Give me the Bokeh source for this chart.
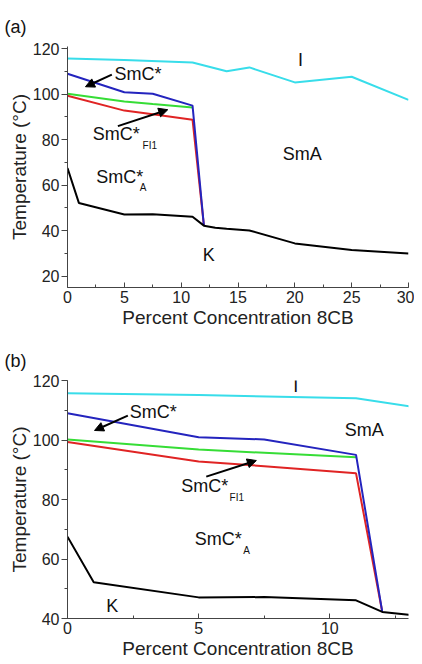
from bokeh.plotting import figure
from bokeh.layouts import column
from bokeh.models import Label, Arrow, NormalHead, SingleIntervalTicker, Range1d
from bokeh.embed import file_html
from bokeh.resources import INLINE

# ---- data (percent 8CB vs transition temperature, deg C) ----
conc_I = [0, 5, 11, 14, 16, 20, 25, 30]
temp_I = [115.7, 115.1, 114.0, 110.1, 111.8, 105.2, 107.7, 97.5]

conc_smc = [0, 5, 7.5, 11, 12]
temp_smc = [109.0, 100.9, 100.2, 95.0, 42.2]

conc_fi1 = [0, 5, 7.5, 11]
temp_fi1 = [100.2, 96.8, 95.7, 94.2]

conc_sma = [0, 5, 7.5, 11, 12]
temp_sma = [99.3, 92.8, 91.2, 88.8, 42.2]

conc_K = [0, 1, 5, 7.5, 11, 12, 13, 14, 16, 20, 25, 30]
temp_K = [67.5, 52.2, 47.1, 47.2, 46.1, 42.2, 41.3, 40.8, 40.1, 34.4, 31.5, 30.0]

FONT = "Liberation Sans"
C_CYAN = "#38DDEA"
C_BLUE = "#2424BE"
C_GREEN = "#36DD36"
C_RED = "#E02424"


def make_fig(xr, yr, top, fh, bottom, panel):
    p = figure(frame_width=341, frame_height=fh,
               min_border_left=67, min_border_right=6, min_border_top=top,
               min_border_bottom=bottom, x_range=Range1d(*xr), y_range=Range1d(*yr),
               output_backend="svg", toolbar_location=None)
    p.outline_line_color = None
    p.xgrid.visible = False
    p.ygrid.visible = False
    p.title.text = panel
    p.title.align = "left"
    p.title.offset = -63
    p.title.standoff = 20
    p.title.text_font = FONT
    p.title.text_font_size = "18px"
    p.title.text_font_style = "normal"
    p.title.text_color = "#111111"
    p.xaxis.ticker = SingleIntervalTicker(interval=5, num_minor_ticks=2)
    p.yaxis.ticker = SingleIntervalTicker(interval=20, num_minor_ticks=2)
    for ax in (p.xaxis[0], p.yaxis[0]):
        ax.axis_line_color = "#444444"
        ax.major_tick_line_color = "#444444"
        ax.minor_tick_line_color = "#444444"
        ax.major_label_text_font = FONT
        ax.major_label_text_font_size = "16px"
        ax.major_label_text_color = "#222222"
        ax.axis_label_text_font = FONT
        ax.axis_label_text_font_size = "19px"
        ax.axis_label_text_font_style = "normal"
        ax.axis_label_text_color = "#222222"
    p.xaxis.major_tick_in = 5
    p.xaxis.major_tick_out = 0
    p.xaxis.minor_tick_in = 3
    p.xaxis.minor_tick_out = 0
    p.xaxis.major_label_standoff = 3
    p.xaxis.axis_label_standoff = 1
    p.yaxis.major_tick_in = 0
    p.yaxis.major_tick_out = 6
    p.yaxis.minor_tick_in = 0
    p.yaxis.minor_tick_out = 3
    p.yaxis.major_label_standoff = 2
    p.yaxis.axis_label_standoff = 0
    p.xaxis.axis_label = "Percent Concentration 8CB"
    p.yaxis.axis_label = "Temperature (\u00b0C)"

    p.line(conc_I, temp_I, line_color=C_CYAN, line_width=2)
    p.line(conc_fi1, temp_fi1, line_color=C_GREEN, line_width=2)
    p.line(conc_sma, temp_sma, line_color=C_RED, line_width=2)
    p.line(conc_smc, temp_smc, line_color=C_BLUE, line_width=2)
    p.line(conc_K, temp_K, line_color="black", line_width=2)
    return p


def lab(p, x, y, text, size="18px", align="left"):
    p.add_layout(Label(x=x, y=y, text=text, text_font=FONT, text_font_size=size,
                       text_baseline="middle", text_align=align, text_color="#111111"))


def arrow(p, x0, y0, x1, y1):
    p.add_layout(Arrow(x_start=x0, y_start=y0, x_end=x1, y_end=y1, line_width=2,
                       line_color="black",
                       end=NormalHead(size=9, fill_color="black", line_color="black")))


# ---- panel (a) ----
pa = make_fig((0, 30), (15, 121), 46, 241, 41, "(a)")
lab(pa, 20.5, 115.0, "I", align="center")
lab(pa, 4.13, 108.9, "SmC*")
arrow(pa, 3.9, 108.6, 1.58, 103.3)
lab(pa, 2.23, 82.3, "SmC*")
lab(pa, 6.6, 77.4, "FI1", size="10px")
arrow(pa, 4.43, 86.0, 8.82, 93.2)
lab(pa, 18.93, 73.6, "SmA")
lab(pa, 2.52, 63.4, "SmC*")
lab(pa, 6.35, 59.1, "A", size="10px")
lab(pa, 11.9, 29.3, "K")

# ---- panel (b) ----
pb = make_fig((0, 13), (40, 120), 50, 238, 36, "(b)")
lab(pb, 8.7, 118.0, "I", align="center")
lab(pb, 2.37, 109.4, "SmC*")
arrow(pb, 2.3, 108.2, 1.03, 103.2)
lab(pb, 4.34, 84.5, "SmC*")
lab(pb, 6.18, 80.7, "FI1", size="10px")
arrow(pb, 5.29, 87.7, 7.2, 93.1)
lab(pb, 10.57, 103.2, "SmA")
lab(pb, 4.85, 66.6, "SmC*")
lab(pb, 6.7, 63.0, "A", size="10px")
lab(pb, 1.48, 44.2, "K")

layout = column(pa, pb, spacing=0)
open("out.html", "w").write(file_html(layout, INLINE))
